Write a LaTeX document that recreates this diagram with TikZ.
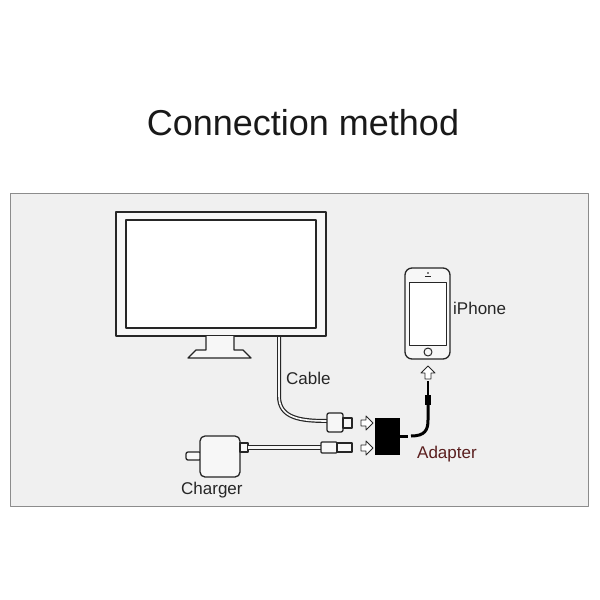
\documentclass[tikz,border=0pt]{standalone}
\usepackage{fontspec}
\setmainfont{Liberation Sans}
\begin{document}
\begin{tikzpicture}[x=1pt,y=-1pt,line join=round,
  ln/.style={draw=black!85,line width=1.3pt},
  lbl/.style={font=\fontsize{17}{19}\selectfont,text=black!85,inner sep=0pt},
  harr/.style={ln,line width=0.9pt,fill=white}]
\useasboundingbox (0,0) rectangle (600,600);
\fill[white] (0,0) rectangle (600,600);
\node[font=\fontsize{36}{40}\selectfont,text=black!90] (title) at (303,123) {Connection method};
\draw[draw=black!45,fill=black!6,line width=0.8pt] (10,193) rectangle (588,506);
% monitor
\draw[ln,fill=black!3] (116,212) rectangle (326,336);
\draw[ln,fill=white] (126,220) rectangle (316,328);
\draw[ln,fill=black!3] (206,336) -- (206,350) -- (196,350) -- (188,358) -- (251,358) -- (243,350) -- (234,350) -- (234,336);
% cable
\draw[black!85,line width=4pt] (279,336) -- (279,396) .. controls (279,418) and (300,421) .. (327,421);
\draw[black!3,line width=1.6pt] (279,337) -- (279,396) .. controls (279,418) and (300,421) .. (327,421);
\draw[ln,rounded corners=2pt,fill=black!3] (327,413) rectangle (343,432);
\draw[ln,fill=black!3] (343,418) rectangle (352,428);
\draw[harr] (361,420) -- (366,420) -- (366,416) -- (373,423) -- (366,430) -- (366,426) -- (361,426) -- cycle;
% charger
\draw[ln,rounded corners=2pt,fill=black!3] (186,452) rectangle (201,460);
\draw[ln,rounded corners=5pt,fill=black!3] (200,436) rectangle (240,477);
\draw[ln,fill=black!3] (240,443) rectangle (248,452);
\draw[black!85,line width=5pt] (248,447.5) -- (322,447.5);
\draw[black!3,line width=2.4pt] (248,447.5) -- (322,447.5);
\draw[ln,rounded corners=1pt,fill=black!3] (321,442) rectangle (337,453);
\draw[ln,fill=black!3] (337,443) rectangle (352,452);
\draw[harr] (361,445) -- (366,445) -- (366,441) -- (373,448) -- (366,455) -- (366,451) -- (361,451) -- cycle;
% adapter
\node[fill=black,minimum width=25pt,minimum height=37pt,inner sep=0pt] (adapter) at (387.5,436.5) {};
\draw[black,line width=3pt] (400,436) -- (408,436);
\draw[black,line width=3pt] (411,436) .. controls (425,436) and (428,430) .. (428,420) -- (428,405);
\fill[black] (425,395) rectangle (431,405);
\draw[black,line width=1.2pt] (428,381) -- (428,395);
\draw[harr] (425,379) -- (425,373) -- (421,373) -- (428,366) -- (435,373) -- (431,373) -- (431,379) -- cycle;
% iPhone
\draw[ln,rounded corners=7pt,fill=black!3] (405,268) rectangle (450,359);
\draw[ln,fill=white,line width=1pt] (409,282) rectangle (446,345);
\draw[ln,line width=1pt] (428,352) circle (4);
\draw[ln,line width=1pt] (425,276) -- (431,276);
\fill (428,273) circle (0.9);
% labels
\node[lbl,anchor=west] (iphone) at (453,308) {iPhone};
\node[lbl,anchor=west] (cable) at (286,378) {Cable};
\node[lbl,anchor=west] (charger) at (181,490) {Charger};
\node[lbl,anchor=west,text={rgb,255:red,90;green,30;blue,30}] (adlbl) at (417,454) {Adapter};
\end{tikzpicture}
\end{document}
